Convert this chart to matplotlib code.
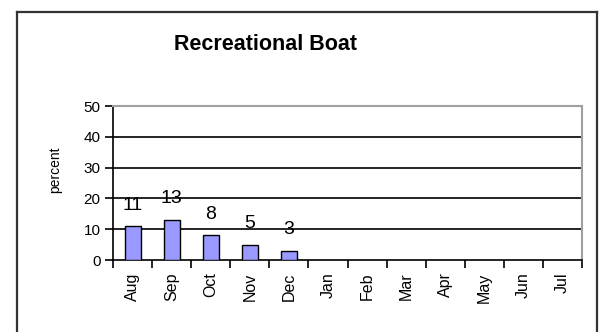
import matplotlib
matplotlib.use("Agg")
import matplotlib.pyplot as plt
from matplotlib.lines import Line2D
import numpy as np

plt.rcParams['font.family'] = ['Liberation Sans', 'DejaVu Sans']

months = ['Aug', 'Sep', 'Oct', 'Nov', 'Dec', 'Jan', 'Feb', 'Mar', 'Apr', 'May', 'Jun', 'Jul']
percent = [11, 13, 8, 5, 3]   # only Aug..Dec have data
yticks = [0, 10, 20, 30, 40, 50]

W, H = 602, 332
fig = plt.figure(figsize=(W / 100, H / 100), dpi=100)

# outer chart frame (bottom edge runs off the image)
frame_col = '#333333'
top = 1 - 12 / H
fig.add_artist(Line2D([17 / W, 17 / W], [-0.05, top], color=frame_col, lw=1.6))
fig.add_artist(Line2D([17 / W, 597 / W], [top, top], color=frame_col, lw=1.6))
fig.add_artist(Line2D([597 / W, 597 / W], [-0.05, top], color=frame_col, lw=1.6))

ax = fig.add_axes([113 / W, 72 / H, 469 / W, 154 / H])

x = np.arange(len(percent))
ax.bar(x, percent, width=0.41, color='#9999ff', edgecolor='black', linewidth=1.0, zorder=3)
for xi, v in zip(x, percent):
    ax.annotate(str(v), (xi, v), xytext=(0, 9), textcoords='offset points',
                ha='center', va='bottom', fontsize=14, zorder=4)

ax.set_xlim(-0.5, len(months) - 0.5)
ax.set_ylim(0, 50)

ax.set_yticks(yticks)
ax.set_yticklabels([str(t) for t in yticks], fontsize=11)
for t in yticks[1:-1]:
    ax.axhline(t, color='black', lw=1.2, zorder=1)

# category ticks on the boundaries, labels at the centres
ax.set_xticks(np.arange(len(months) + 1) - 0.5)
ax.set_xticklabels([])
ax.set_xticks(np.arange(len(months)), minor=True)
ax.set_xticklabels(months, minor=True, rotation=90, fontsize=11.5, va='top')
ax.tick_params(axis='x', which='minor', length=0, pad=9)
ax.tick_params(axis='x', which='major', length=6, width=1.2, direction='out')
ax.tick_params(axis='y', length=6, width=1.2, direction='out', pad=3)

ax.spines['left'].set_color('black')
ax.spines['bottom'].set_color('black')
ax.spines['left'].set_linewidth(1.2)
ax.spines['bottom'].set_linewidth(1.2)
ax.spines['top'].set_color('#a0a0a0')
ax.spines['right'].set_color('#a0a0a0')
ax.spines['top'].set_linewidth(1.5)
ax.spines['right'].set_linewidth(1.5)

fig.text(266 / W, 1 - 44 / H, 'Recreational Boat', ha='center', va='center',
         fontsize=15.5, fontweight='bold')
fig.text(55 / W, 1 - 170 / H, 'percent', rotation=90, ha='center', va='center', fontsize=10)

fig.savefig('out.png', dpi=100)
